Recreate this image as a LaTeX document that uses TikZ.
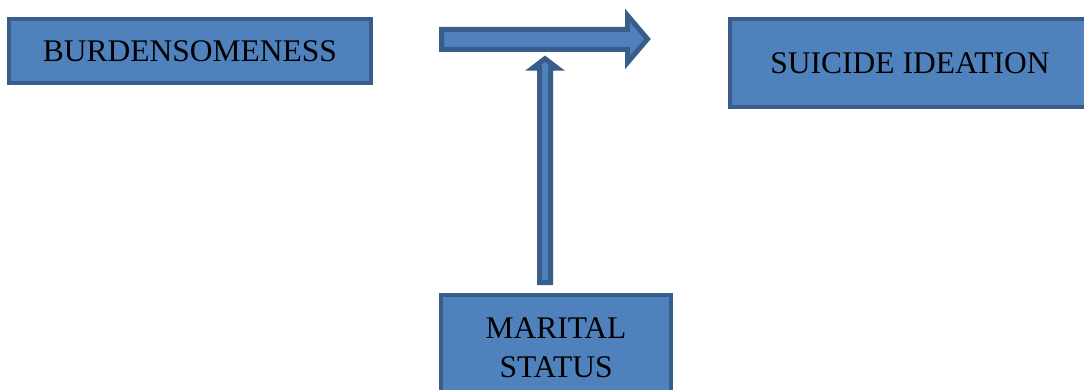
\documentclass[tikz,border=0pt]{standalone}
\usepackage{fontspec}
\setmainfont{Liberation Serif}
\definecolor{boxfill}{HTML}{4F81BD}
\definecolor{boxline}{HTML}{385D8A}
\begin{document}
\begin{tikzpicture}[x=1pt,y=-1pt,
  box/.style={draw=boxline, fill=boxfill, line width=4pt, inner sep=0pt,
    font=\fontsize{31.5}{39}\selectfont, align=center},
  blockarrow/.style={draw=boxline, fill=boxfill, line width=5pt, line join=miter}]
\useasboundingbox (0,0) rectangle (1084,390);
\clip (0,0) rectangle (1084,390);
\fill[white] (0,0) rectangle (1084,390);
\node[box, minimum width=362pt, minimum height=64pt] (burden) at (190,51) {BURDENSOMENESS};
\node[box, minimum width=360pt, minimum height=88pt] (suicide) at (910,63) {SUICIDE IDEATION};
\node[box, minimum width=230pt, minimum height=105pt] (marital) at (556,347.5) {MARITAL\\STATUS};
% horizontal block arrow
\coordinate (ht) at (647.5,39);
\draw[blockarrow] (441.5,29.5) -- (627.5,29.5) -- (627.5,15.5) -- (ht) -- (627.5,62.5) -- (627.5,49.5) -- (441.5,49.5) -- cycle;
% vertical block arrow
\coordinate (vt) at (545,58.7);
\draw[blockarrow] (539.5,282.5) -- (539.5,68.2) -- (532.5,68.2) -- (vt) -- (557.5,68.2) -- (550.5,68.2) -- (550.5,282.5) -- cycle;
\end{tikzpicture}
\end{document}
